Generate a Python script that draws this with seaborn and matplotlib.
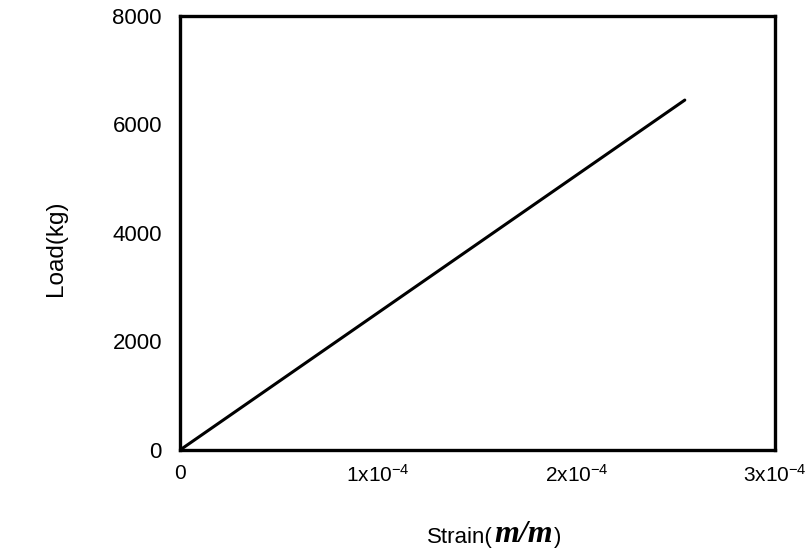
import matplotlib
matplotlib.use("Agg")
import matplotlib.pyplot as plt
from matplotlib.offsetbox import TextArea, HPacker, AnchoredOffsetbox
import seaborn as sns
import pandas as pd

# Load-strain record (linear elastic range)
strain = [0.0, 2.545e-4]
load_kg = [0.0, 6450.0]

x_ticks = [0.0, 1e-4, 2e-4, 3e-4]
x_tick_labels = ["0", r"$\mathregular{1x10^{-4}}$", r"$\mathregular{2x10^{-4}}$", r"$\mathregular{3x10^{-4}}$"]
y_ticks = [0, 2000, 4000, 6000, 8000]
y_tick_labels = ["0", "2000", "4000", "6000", "8000"]

sns.set_theme(style="white")
plt.rcParams["font.family"] = ["Liberation Sans", "DejaVu Sans"]
plt.rcParams["mathtext.fontset"] = "custom"
plt.rcParams["mathtext.rm"] = "Liberation Sans"

df = pd.DataFrame({"strain": strain, "load": load_kg})

fig = plt.figure(figsize=(8.08, 5.51), dpi=100)
ax = fig.add_axes([0.2228, 0.1833, 0.7364, 0.7877])

sns.lineplot(data=df, x="strain", y="load", ax=ax, color="black", linewidth=2.2)

ax.set_xlim(0, 3e-4)
ax.set_ylim(0, 8000)
ax.set_xticks(x_ticks)
ax.set_xticklabels(x_tick_labels, fontsize=15)
ax.set_yticks(y_ticks)
ax.set_yticklabels(y_tick_labels, fontsize=16)
ax.tick_params(axis="x", length=0, pad=10, colors="black")
ax.tick_params(axis="y", length=0, pad=13, colors="black")

for sp in ax.spines.values():
    sp.set_visible(True)
    sp.set_color("black")
    sp.set_linewidth(2.4)

# y-axis title
ax.set_ylabel("Load(kg)", fontsize=17.5, color="black")
ax.yaxis.set_label_coords(-0.19, 0.465)
ax.set_xlabel("")

# x-axis title: plain "Strain(" followed by a bold italic unit
parts = HPacker(
    children=[
        TextArea("Strain(", textprops=dict(fontsize=16, color="black")),
        TextArea("m/m", textprops=dict(fontsize=23, color="black",
                                         family="Liberation Serif",
                                         style="italic", weight="bold")),
        TextArea(")", textprops=dict(fontsize=16, color="black")),
    ],
    align="baseline", pad=0, sep=1,
)
title_box = AnchoredOffsetbox(loc="center", child=parts, frameon=False,
                              bbox_to_anchor=(494 / 808, 1 - 535 / 551),
                              bbox_transform=fig.transFigure, borderpad=0)
fig.add_artist(title_box)

fig.savefig("out.png", dpi=100, facecolor="white")
